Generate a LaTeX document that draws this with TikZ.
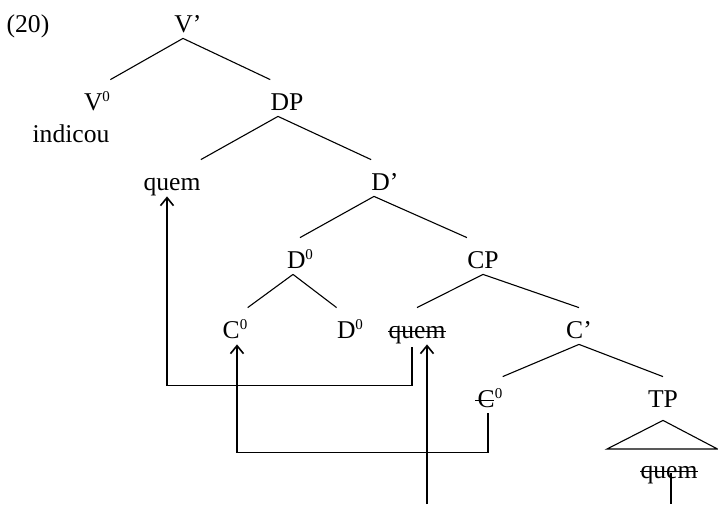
\documentclass[tikz,border=0pt]{standalone}
\usepackage{fontspec}
\setmainfont{Liberation Serif}
\usepackage{tikz}
\usetikzlibrary{arrows.meta}
\newcommand{\supz}{\raisebox{0.75ex}{\fontsize{7.5}{8}\selectfont 0}}
\tikzset{
	catnode/.style={
			anchor=base,
			inner sep=0pt,
			text height=15pt,
			text depth=3pt,
			font=\fontsize{12.8}{15}\selectfont
		},
	branch/.style={
			line width=0.55pt
		},
	strikeline/.style={
			line width=0.5pt
		},
	movearrow/.style={
			line width=0.6pt,
			-{Straight Barb[length=4pt,width=6.5pt,line width=0.8pt]}
		}
}

\begin{document}
\begin{tikzpicture}[x=0.5pt, y=-0.5pt]
\useasboundingbox (0,0) rectangle (718,504);
\node[catnode] (ex) at (28,32) {(20)};
\node[catnode] (vp) at (188,32) {V’};
\node[catnode] (v0) at (97,110) {V\supz};
\node[catnode] (ind) at (71,142) {indicou};
\node[catnode] (dp) at (287,110) {DP};
\node[catnode] (qm1) at (172,190) {quem};
\node[catnode] (dpr) at (385,190) {D’};
\node[catnode] (d0) at (300,268) {D\supz};
\node[catnode] (cp) at (483,268) {CP};
\node[catnode] (c0) at (235,338) {C\supz};
\node[catnode] (d0b) at (350,338) {D\supz};
\node[catnode] (qm2) at (417,338) {quem};
\node[catnode] (cpr) at (579,338) {C’};
\node[catnode] (c0b) at (490,407) {C\supz};
\node[catnode] (tp) at (663,407) {TP};
\node[catnode] (qm3) at (669,478) {quem};
\coordinate (bot2) at (427,504);
\coordinate (bot3) at (671,504);

\draw[strikeline] ([yshift=1pt]qm2.mid west) -- ([yshift=1pt]qm2.mid east);
\draw[strikeline] ([yshift=1pt]qm3.mid west) -- ([yshift=1pt]qm3.mid east);
\draw[strikeline] ([xshift=-1pt, yshift=1pt]c0b.mid west) -- ([xshift=8.5pt, yshift=1pt]c0b.mid west);

\draw[branch] ([xshift=-2.5pt]vp.south) -- (v0.north east);
\draw[branch] ([xshift=-2.5pt]vp.south) -- (dp.north west);

\draw[branch] ([xshift=-4.5pt]dp.south) -- (qm1.north east);
\draw[branch] ([xshift=-4.5pt]dp.south) -- (dpr.north west);

\draw[branch] ([xshift=-5.5pt]dpr.south) -- (d0.north);
\draw[branch] ([xshift=-5.5pt]dpr.south) -- (cp.north west);

\draw[branch] ([xshift=-3.5pt]d0.south) -- (c0.north east);
\draw[branch] ([xshift=-3.5pt]d0.south) -- (d0b.north west);

\draw[branch] (cp.south) -- (qm2.north);
\draw[branch] (cp.south) -- (cpr.north);

\draw[branch] (cpr.south) -- (c0b.north east);
\draw[branch] (cpr.south) -- (tp.north);

\draw[branch] ([yshift=-3.5pt]tp.south) -- (607,449) -- (717.5,449) -- cycle;

\draw[movearrow, shorten <=1.5pt] ([xshift=-2.5pt]qm2.south) -- ++(0,41) -| ([xshift=-2.5pt]qm1.south);
\draw[movearrow] ([xshift=-1pt]c0b.south) -- ++(0,39) -| ([xshift=1pt]c0.south);
\draw[movearrow] (bot2) -- (bot2 |- qm2.south);
\draw[branch] ([xshift=1pt]qm3.mid) -- (bot3);
\end{tikzpicture}
\end{document}
